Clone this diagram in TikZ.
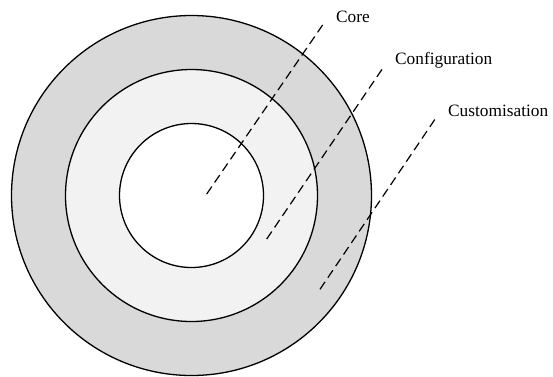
\documentclass[tikz,border=0pt]{standalone}
\usepackage{fontspec}
\setmainfont{Liberation Serif}
\definecolor{outerfill}{HTML}{D9D9D9}
\definecolor{midfill}{HTML}{F2F2F2}
\begin{document}
\begin{tikzpicture}[x=1pt,y=-1pt,
  ring/.style={draw=black, line width=1.3pt},
  leader/.style={draw=black, line width=1.2pt, dash pattern=on 9pt off 5pt},
  tag/.style={font=\fontsize{17.3}{20}\selectfont, inner sep=0pt, anchor=west}]
\useasboundingbox (0,0) rectangle (553,376);
\coordinate (c) at (191.5,195.5);

% three nested layers
\path[ring, fill=outerfill] (c) circle[radius=180pt];
\path[ring, fill=midfill]   (c) circle[radius=126pt];
\path[ring, fill=white]     (c) circle[radius=72pt];

% layer names
\node[tag] (core)   at (336,17)  {Core};
\node[tag] (config) at (395,60)  {Configuration};
\node[tag] (custom) at (448,111) {Customisation};

% leader end points
\coordinate (coreIn)   at (206.7,194);
\coordinate (coreOut)  at (323.3,24);
\coordinate (confIn)   at (266.7,239);
\coordinate (confOut)  at (382.7,68.3);
\coordinate (custIn)   at (320,289.3);
\coordinate (custOut)  at (436.7,116.7);

\draw[leader] (coreIn) -- (coreOut);
\draw[leader] (confIn) -- (confOut);
\draw[leader] (custIn) -- (custOut);
\end{tikzpicture}
\end{document}
